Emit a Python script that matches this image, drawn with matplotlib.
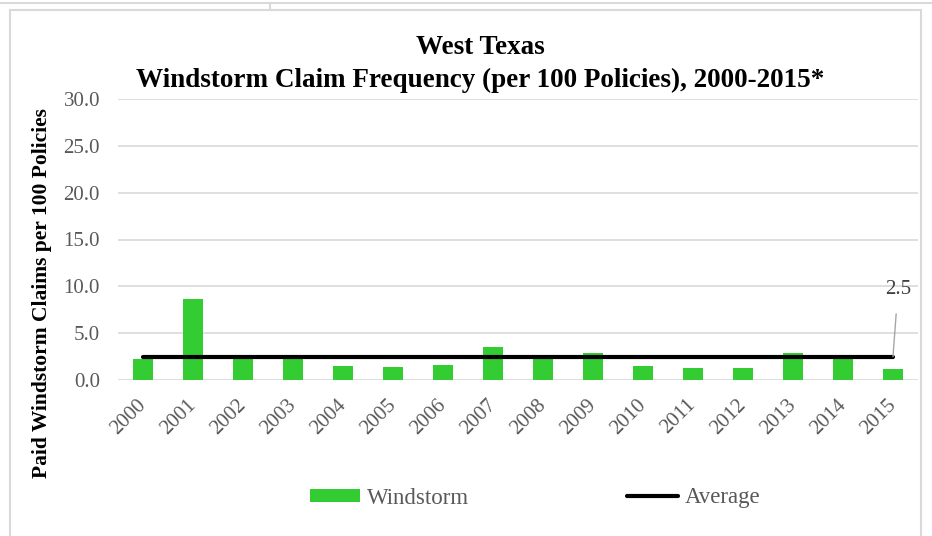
import matplotlib
matplotlib.use("Agg")
import matplotlib.pyplot as plt
from matplotlib.patches import Rectangle
from matplotlib.lines import Line2D

years = [str(y) for y in range(2000, 2016)]
windstorm = [2.2, 8.7, 2.4, 2.3, 1.5, 1.4, 1.6, 3.5, 2.3, 2.9, 1.5, 1.3, 1.3, 2.9, 2.4, 1.2]
average = 2.5
yticks = [0, 5, 10, 15, 20, 25, 30]

plt.rcParams['font.family'] = ['Liberation Serif', 'DejaVu Serif']

fig = plt.figure(figsize=(9.32, 5.36), dpi=100)
ax = fig.add_axes([118 / 932, 1 - 380 / 536, 800 / 932, 281 / 536])

x = list(range(len(years)))
bars = ax.bar(x, windstorm, width=0.4, color='#33cc33', label='Windstorm', zorder=2)
avg_line, = ax.plot(x, [average] * len(x), color='black', lw=3, label='Average',
                    zorder=3, solid_capstyle='round')

ax.annotate(f'{average:.1f}', xy=(x[-1], average), xytext=(x[-1] + 0.1, 9.7),
            fontsize=15, color='#404040', ha='center', va='center',
            arrowprops=dict(arrowstyle='-', color='#a6a6a6', lw=1,
                            shrinkA=9, shrinkB=0))

ax.set_xlim(-0.5, len(x) - 0.5)
ax.set_ylim(0, 30)
ax.set_yticks(yticks)
ax.set_yticklabels([f'{v:.1f}' for v in yticks], fontsize=15, color='#595959')
ax.set_xticks(x)
ax.set_xticklabels(years, rotation=45, fontsize=15, color='#595959',
                   ha='right', va='center', rotation_mode='anchor')
ax.tick_params(axis='y', length=0, pad=13)
ax.tick_params(axis='x', length=0, pad=16)
ax.grid(axis='y', color='#d9d9d9', lw=1.2, zorder=0)
for s in ax.spines.values():
    s.set_visible(False)

ax.set_ylabel('Paid Windstorm Claims per 100 Policies', fontsize=15.5,
              fontweight='bold')
ax.yaxis.set_label_coords(-0.083, 0.31)

fig.text(480 / 932, 1 - 48 / 536, 'West Texas', ha='center', va='center',
         fontsize=19.5, fontweight='bold')
fig.text(480 / 932, 1 - 80 / 536, 'Windstorm Claim Frequency (per 100 Policies), 2000-2015*',
         ha='center', va='center', fontsize=19.5, fontweight='bold')

fig.legend(handles=[bars, avg_line], loc='center',
           bbox_to_anchor=(535 / 932, 1 - 498 / 536), ncol=2,
           frameon=False, fontsize=16.5, handlelength=2.2, handleheight=0.5,
           columnspacing=6.9, handletextpad=0.3, labelcolor='#595959')

fig.patches.append(Rectangle((10 / 932, -0.01), 911 / 932, 1 - 10 / 536 + 0.01,
                             transform=fig.transFigure, fill=False,
                             edgecolor='#d9d9d9', lw=1.5))
fig.lines.append(Line2D([0, 1], [1 - 3 / 536] * 2, transform=fig.transFigure,
                        color='#d9d9d9', lw=1.5))
fig.lines.append(Line2D([270 / 932] * 2, [1 - 3 / 536, 1 - 10 / 536],
                        transform=fig.transFigure, color='#d9d9d9', lw=1.5))

fig.savefig('out.png', dpi=100)
